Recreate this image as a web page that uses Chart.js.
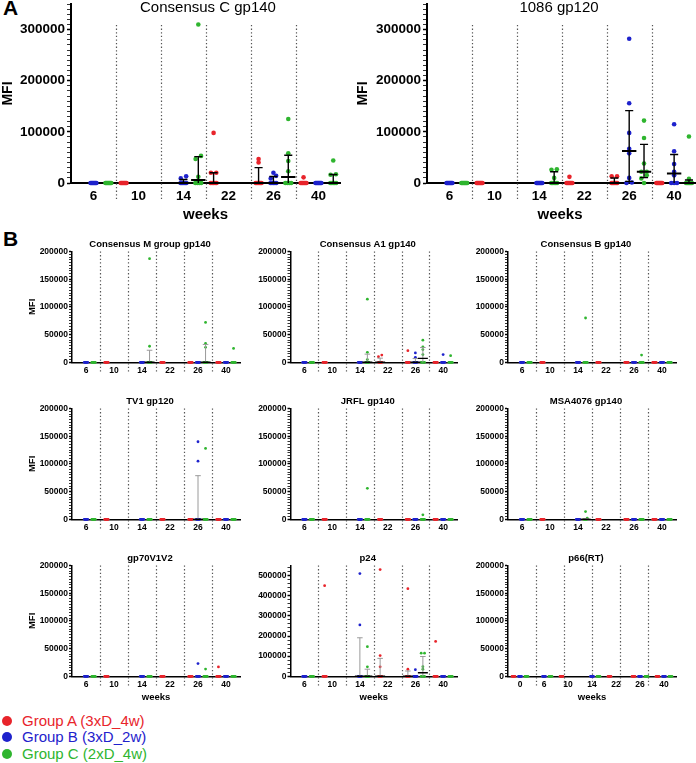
<!DOCTYPE html>
<html><head><meta charset="utf-8">
<script src="https://cdn.jsdelivr.net/npm/chart.js@4.4.1/dist/chart.umd.min.js"></script>
<style>
body{margin:0;width:696px;height:763px;position:relative;background:#fff;overflow:hidden;font-family:'Liberation Sans',Arial,Helvetica,sans-serif}
canvas{position:absolute}
.pl{position:absolute;left:3px;font-weight:bold;font-size:21px;line-height:21px;color:#000}
.leg{position:absolute;left:0;height:16px;line-height:16px;font-size:15px;white-space:nowrap}
.leg span.dot{position:absolute;left:2px;top:3px;width:10px;height:10px;border-radius:50%}
.leg span.t{position:absolute;left:22px;top:0}
</style></head><body>
<div class="pl" style="top:-3px">A</div>
<div class="pl" style="top:228px">B</div>
<div id="legend"></div>
<script>
// ---------------- data ----------------
const WEEKS = ['6','10','14','22','26','40'];
const WEEKS_RT = ['0','6','10','14','22','26','40'];
const GROUPS = ['Group A (3xD_4w)','Group B (3xD_2w)','Group C (2xD_4w)'];
const Z = [0,0,0,0,0,0,0,0];

// Consensus C gp140
const ccA = [null, Z, null, [98000,20000,20000,0,0,0,0,0], [47000,40000,0,0,0,0,0,0], [11000,0,0,0,0,0,0,0]];
const ccB = [Z, null, [13000,9000,0,0,0,0,0,0], null, [20000,14000,9000,0,0,0,0,0], Z];
const ccC = [Z, null, [310000,53000,47000,12000,0,0,0,0], null, [125000,58000,43000,23000,0,0,0,0], [44000,17000,16000,0,0,0,0,0]];
// 1086 gp120
const g1086A = [null, Z, null, [12000,0,0,0,0,0,0,0], [13000,13000,0,0,0,0,0,0], Z];
const g1086B = [Z, null, Z, null, [282000,156000,98000,67000,58000,10000,1000,0], [115000,62000,37000,22000,15000,0,0,0]];
const g1086C = [Z, null, [27000,26000,10000,0,0,0,0,0], null, [122000,88000,38000,22000,22000,15000,9000,0], [91000,8000,0,0,0,0,0,0]];
// Consensus M group gp140
const cmA = [null, Z, null, Z, Z, Z];
const cmB = [Z, null, Z, null, Z, Z];
const cmC = [Z, null, [187000,29000,0,0,0,0,0,0], null, [72000,34000,27000,0,0,0,0,0], [25000,0,0,0,0,0,0,0]];
// Consensus A1 gp140
const a1A = [null, Z, null, [13000,10000,0,0,0,0,0,0], [21000,0,0,0,0,0,0,0], Z];
const a1B = [Z, null, Z, null, [17000,9000,0,0,0,0,0,0], [14000,0,0,0,0,0,0,0]];
const a1C = [Z, null, [114000,18000,5000,0,0,0,0,0], null, [40000,28000,23000,14000,0,0,0,0], [12000,0,0,0,0,0,0,0]];
// Consensus B gp140
const cbA = [null, Z, null, Z, Z, Z];
const cbB = [Z, null, Z, null, Z, Z];
const cbC = [Z, null, [80000,0,0,0,0,0,0,0], null, [13000,0,0,0,0,0,0,0], Z];
// TV1 gp120
const tvA = [null, Z, null, Z, Z, Z];
const tvB = [Z, null, Z, null, [140000,105000,0,0,0,0,0,0], Z];
const tvC = [Z, null, Z, null, [128000,0,0,0,0,0,0,0], Z];
// JRFL gp140
const jrA = [null, Z, null, Z, Z, Z];
const jrB = [Z, null, Z, null, Z, Z];
const jrC = [Z, null, [56000,0,0,0,0,0,0,0], null, [8000,0,0,0,0,0,0,0], Z];
// MSA4076 gp140
const msA = [null, Z, null, Z, Z, Z];
const msB = [Z, null, Z, null, Z, Z];
const msC = [Z, null, [14000,2000,0,0,0,0,0,0], null, Z, Z];
// gp70V1V2
const v2A = [null, Z, null, Z, Z, [17000,0,0,0,0,0,0,0]];
const v2B = [Z, null, Z, null, [23000,0,0,0,0,0,0,0], Z];
const v2C = [Z, null, Z, null, [13000,0,0,0,0,0,0,0], Z];
// p24
const p24A = [null, [450000,0,0,0,0,0,0,0], null, [530000,103000,47000,0,0,0,0,0], [435000,35000,0,0,0,0,0,0], [173000,0,0,0,0,0,0,0]];
const p24B = [Z, null, [510000,255000,0,0,0,0,0,0], null, [33000,0,0,0,0,0,0,0], Z];
const p24C = [Z, null, [147000,47000,0,0,0,0,0,0], null, [115000,115000,48000,35000,0,0,0,0], Z];
// p66(RT)
const rtA = [Z, null, Z, null, Z, Z, Z];
const rtB = [Z, Z, null, Z, null, Z, Z];
const rtC = [Z, Z, null, Z, null, Z, Z];

// ---------------- styling / layout ----------------
const F = "'Liberation Sans', Arial, Helvetica, sans-serif";
const COLORS = ['#e8242b', '#1e22cc', '#2fb52f'];

const COLS = [{cx:0,cw:248,al:72,ar:240},{cx:248,cw:220,al:290.5,ar:457},{cx:468,cw:228,al:508,ar:676}];
const ROWS = [{cy:232,ch:153,at:251.5,ab:362.3},{cy:389,ch:153,at:408.5,ab:519.3},{cy:546,ch:159,at:565.5,ab:676.3}];

function small(title, col, row, groups, extra){
  const c = COLS[col], r = ROWS[row];
  return Object.assign({
    title, groups, weeks: WEEKS, big:false,
    canvas:[c.cx, r.cy, c.cw, r.ch], area:[c.al, r.at, c.ar, r.ab],
    yMax:200000, major:50000, minor:5000,
    mfi: col===0, mfiPad: 28, weeksTitle: row===2,
    titlePos:[(c.al+c.ar)/2-6, r.at-7.5]
  }, extra||{});
}

const PANELS = [
  {title:'Consensus C gp140', groups:[ccA,ccB,ccC], weeks:WEEKS, big:true,
   canvas:[0,0,345,225], area:[71,4,340,183], xmax:5.48, yMax:350000, major:100000, minor:10000,
   mfi:true, mfiPad:1.5, weeksTitle:true, titlePos:[208,8]},
  {title:'1086 gp120', groups:[g1086A,g1086B,g1086C], weeks:WEEKS, big:true,
   canvas:[345,0,351,225], area:[427,4,693,183], xmax:5.42, yMax:350000, major:100000, minor:10000,
   mfi:true, mfiPad:11, weeksTitle:true, titlePos:[559,8]},
  small('Consensus M group gp140',0,0,[cmA,cmB,cmC]),
  small('Consensus A1 gp140',1,0,[a1A,a1B,a1C]),
  small('Consensus B gp140',2,0,[cbA,cbB,cbC]),
  small('TV1 gp120',0,1,[tvA,tvB,tvC]),
  small('JRFL gp140',1,1,[jrA,jrB,jrC]),
  small('MSA4076 gp140',2,1,[msA,msB,msC]),
  small('gp70V1V2',0,2,[v2A,v2B,v2C]),
  small('p24',1,2,[p24A,p24B,p24C],{yMax:550000, major:100000, minor:20000}),
  small('p66(RT)',2,2,[rtA,rtB,rtC],{weeks:WEEKS_RT, span:7})
];

// scatter-dot layout: spread points of similar value horizontally
function swarm(vals, center, yMax, big){
  const s = vals.slice().sort((a,b)=>a-b), out = [];
  const thr = yMax*0.02;
  const maxSpan = big ? 0.13 : 0.12;
  let i = 0;
  while (i < s.length){
    let j = i;
    while (j+1 < s.length && s[j+1]-s[i] < thr) j++;
    const m = j-i+1;
    const sp = m>1 ? Math.min(maxSpan/(m-1), big?0.12:0.14) : 0;
    for (let k=0;k<m;k++) out.push({x:center+(k-(m-1)/2)*sp, y:s[i+k]});
    i = j+1;
  }
  return out;
}
// median + interquartile range (n+1 percentile method)
function quart(vals){
  const s = vals.slice().sort((a,b)=>a-b), n = s.length;
  const q = p => { const pos=(n+1)*p, lo=Math.floor(pos), f=pos-lo;
    if (lo<1) return s[0]; if (lo>=n) return s[n-1]; return s[lo-1]+f*(s[lo]-s[lo-1]); };
  return [q(0.25), q(0.5), q(0.75)];
}

const deco = {
  id:'deco',
  beforeDatasetsDraw(chart, args, o){
    const {ctx, chartArea:a, scales:{x}} = chart;
    ctx.save();
    ctx.strokeStyle = '#555'; ctx.lineWidth = 1.2; ctx.setLineDash([1.3, 2.3]);
    for (let k=1;k<6;k++){
      const v = -0.5 + o.span*k/6;
      const px = Math.round(x.getPixelForValue(v)) + 0.5;
      ctx.beginPath(); ctx.moveTo(px, a.top + o.top); ctx.lineTo(px, a.bottom + o.below); ctx.stroke();
    }
    ctx.restore();
  },
  afterDraw(chart, args, o){
    const ctx = chart.ctx;
    ctx.save();
    ctx.font = o.font; ctx.fillStyle = '#000'; ctx.textAlign = 'center'; ctx.textBaseline = 'middle';
    ctx.fillText(o.text, o.tx, o.ty);
    ctx.restore();
  }
};

function makePanel(p){
  const [cx,cy,cw,ch] = p.canvas, [al,at,ar,ab] = p.area;
  const cv = document.createElement('canvas');
  cv.width = cw; cv.height = ch;
  Object.assign(cv.style, {left:cx+'px', top:cy+'px', width:cw+'px', height:ch+'px'});
  document.body.appendChild(cv);
  const big = p.big, n = p.weeks.length;
  const off = big?0.33:0.27, cap = big?0.09:0.1, mw = big?0.16:0.18;
  const datasets = [], whisk = [], med = [];
  p.groups.forEach((arr, gi) => {
    const pts = [];
    arr.forEach((vals, i) => {
      if (!vals) return;
      const c = i + (gi-1)*off;
      pts.push(...swarm(vals, c, p.yMax, big));
      const [q1, m, q3] = quart(vals);
      if (q3 > 0){
        whisk.push({x:c,y:q1},{x:c,y:q3},{x:c,y:null},{x:c-cap,y:q3},{x:c+cap,y:q3},{x:c,y:null});
        if (q1 > 0) whisk.push({x:c-cap,y:q1},{x:c+cap,y:q1},{x:c,y:null});
        med.push({x:c-mw,y:m},{x:c+mw,y:m},{x:c,y:null});
      }
    });
    datasets.push({label:GROUPS[gi], data:pts, backgroundColor:COLORS[gi], borderColor:COLORS[gi],
      pointRadius: big?2.3:1.4, pointBorderWidth:0, pointHoverRadius:0, clip:false, order:2});
  });
  datasets.push({data:whisk, showLine:true, borderColor: big?'#000':'#9a9a9a', borderWidth: big?1.4:1,
    pointRadius:0, spanGaps:false, clip:false, order:1});
  datasets.push({data:med, showLine:true, borderColor:'#000', borderWidth: big?2:1.4,
    pointRadius:0, spanGaps:false, clip:false, order:0});

  const tickFont = {family:F, size: big?13.5:8.5, weight:'bold'};
  new Chart(cv, {
    type:'scatter',
    data:{datasets},
    plugins:[deco],
    options:{
      responsive:false, animation:false, events:[], devicePixelRatio:1,
      layout:{padding:{top:at-cy, left:0, right:cx+cw-ar, bottom:0}},
      plugins:{
        legend:{display:false}, tooltip:{enabled:false},
        deco:{span:p.span||6, top: big?21:0, below: big?17:10,
              text:p.title, tx:p.titlePos[0]-cx, ty:p.titlePos[1]-cy,
              font: big ? ("15px "+F) : ("bold 9.5px "+F)}
      },
      scales:{
        x:{type:'linear', min:-0.5, max: p.xmax ?? (n-0.5),
          afterBuildTicks: s => { s.ticks = p.weeks.map((w,i)=>({value:i})); },
          afterFit: s => { s.height = cy+ch-ab; s.paddingLeft = 0; s.paddingRight = 0; },
          ticks:{callback: v => p.weeks[v], font:tickFont, color:'#000', padding: big?5:3,
                 autoSkip:false, maxRotation:0, minRotation:0},
          grid:{display:false, drawTicks:false},
          border:{display:true, color:'#000', width: big?2:1.5},
          title:{display:!!p.weeksTitle, text:'weeks', color:'#000',
                 font:{family:F, size: big?15:9.5, weight:'bold', lineHeight:1},
                 padding:{top:0, bottom: big?2.5:2.55}}
        },
        y:{type:'linear', min:0, max:p.yMax,
          afterBuildTicks: s => { const t=[]; for (let v=0; v<=p.yMax; v+=p.minor) t.push({value:v}); s.ticks = t; },
          afterFit: s => { s.width = al-cx; s.paddingTop = 0; s.paddingBottom = 0; },
          ticks:{callback: v => (v % p.major === 0 ? String(v) : ''), font:tickFont, color:'#000',
                 padding: big?2:1, autoSkip:false},
          grid:{drawOnChartArea:false, drawTicks:true, tickLength: big?4:3, tickColor:'#000',
                tickWidth: c => (c.tick && c.tick.value % p.major === 0) ? 1.5 : 0.8},
          border:{display:true, color:'#000', width: big?2:1.5},
          title:{display:!!p.mfi, text:'MFI', color:'#000',
                 font:{family:F, size: big?14:9.5, weight:'bold', lineHeight:1},
                 padding:{top:p.mfiPad, bottom:0}}
        }
      }
    }
  });
}
PANELS.forEach(makePanel);

// legend
const leg = document.getElementById('legend');
GROUPS.forEach((g, i) => {
  const d = document.createElement('div');
  d.className = 'leg';
  d.style.top = (713 + i*16.3) + 'px';
  d.innerHTML = '<span class="dot" style="background:'+COLORS[i]+'"></span><span class="t" style="color:'+COLORS[i]+'">'+g+'</span>';
  leg.appendChild(d);
});
</script>
</body></html>
